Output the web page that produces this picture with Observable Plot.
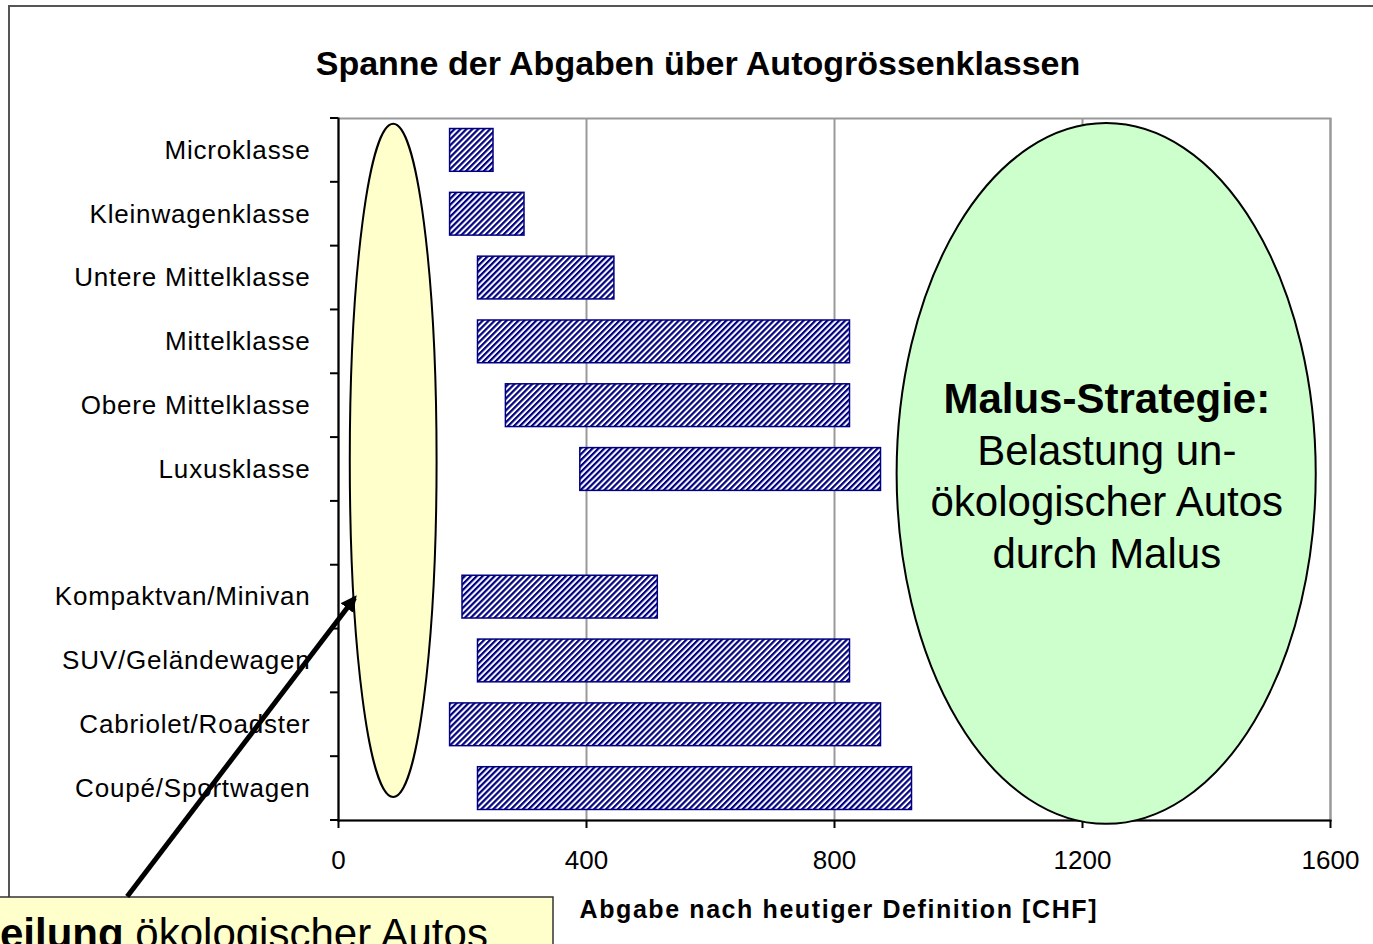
<!DOCTYPE html>
<html><head><meta charset="utf-8">
<script src="https://cdn.jsdelivr.net/npm/d3@7"></script>
<script src="https://cdn.jsdelivr.net/npm/@observablehq/plot@0.6"></script>
<style>html,body{margin:0;padding:0;background:#fff;overflow:hidden}</style>
</head><body><div id="chart"></div>
<script>
// ---- data ----
const categories = ["Microklasse","Kleinwagenklasse","Untere Mittelklasse","Mittelklasse","Obere Mittelklasse","Luxusklasse"," ","Kompaktvan/Minivan","SUV/Geländewagen","Cabriolet/Roadster","Coupé/Sportwagen"];
const minValues = [180,180,225,225,270,390,null,200,225,180,225];
const maxValues = [250,300,445,825,825,875,null,515,825,875,925];
const xTicks = [0,400,800,1200,1600];
const titleText = "Spanne der Abgaben über Autogrössenklassen";
const xLabel = "Abgabe nach heutiger Definition [CHF]";
const malusLines = ["Malus-Strategie:","Belastung un-","ökologischer Autos","durch Malus"];
const calloutBold = "eilung";
const calloutRest = " ökologischer Autos";
// annotation geometry in data units (x: CHF, y: row units from top of plot)
const yellowEllipse = {cx: 89, rx: 70, rowTop: 0.09, rowBottom: 10.64};
const greenEllipse = {cx: 1239, rx: 338, rowTop: 0.08, rowBottom: 11.06};
const arrowLine = {x1: -340, row1: 12.2, x2: 27, row2: 7.52};
const malusCenter = {x: 1240, row: 4.62, rowStep: 0.81};

const rows = categories.map((c,i)=>({cat:c, min:minValues[i], max:maxValues[i]})).filter(d=>d.min!=null);

const FONT = "'Liberation Sans', Arial, Helvetica, sans-serif";
const W = 1373, H = 944;

const plot = Plot.plot({
  width: W, height: H,
  marginLeft: 338, marginRight: 43, marginTop: 118, marginBottom: 124,
  style: {fontFamily: FONT, background: "white", color: "black", overflow: "visible"},
  x: {domain: [0,1600], ticks: xTicks, tickFormat: d => String(d)},
  y: {domain: categories, paddingInner: 0.33, paddingOuter: 0.165, align: 0.5, round: false},
  marks: [
    Plot.gridX(xTicks, {stroke: "#999", strokeOpacity: 1, strokeWidth: 2}),
    Plot.frame({stroke: "#999", strokeWidth: 2}),
    Plot.barX(rows, {y: "cat", x1: "min", x2: "max", fill: "url(#hatch)", stroke: "#000080", strokeWidth: 1.5}),
    Plot.axisX({ticks: xTicks, tickFormat: d => String(d), tickSize: 8, tickPadding: 22, fontSize: 26, label: null, strokeWidth: 2}),
    Plot.axisY({tickSize: 0, tickPadding: 28, fontSize: 26, label: null}),
    Plot.frame({anchor: "left", stroke: "#000", strokeWidth: 2}),
    Plot.frame({anchor: "bottom", stroke: "#000", strokeWidth: 2})
  ]
});

const svg = d3.select(plot);
const defs = svg.insert("defs", ":first-child");
const pat = defs.append("pattern").attr("id","hatch").attr("patternUnits","userSpaceOnUse")
  .attr("width",4.2).attr("height",4.2).attr("patternTransform","rotate(45)");
pat.append("rect").attr("width",4.2).attr("height",4.2).attr("fill","white");
pat.append("rect").attr("width",2.2).attr("height",4.2).attr("fill","#000080");

svg.selectAll('[aria-label="y-axis tick label"] text').attr("letter-spacing", 0.8);

const xs = plot.scale("x"), ys = plot.scale("y");
const X = v => xs.apply(v);
const step = ys.step;
const top0 = ys.apply(categories[0]) - (step - ys.bandwidth)/2;
const R = r => top0 + r*step;

// boundary ticks on y axis
const tg = svg.append("g").attr("stroke","#000").attr("stroke-width",2);
for (let k=0;k<=categories.length;k++){
  tg.append("line").attr("x1", X(0)-8).attr("x2", X(0)).attr("y1", R(k)).attr("y2", R(k));
}

// page frame
svg.append("path").attr("d", `M9,897 L9,6 L${W},6`).attr("fill","none").attr("stroke","#555").attr("stroke-width",2);

// title
svg.append("text").attr("x", 698).attr("y", 75).attr("text-anchor","middle")
  .attr("font-family", FONT).attr("font-weight","bold").attr("font-size",34).text(titleText);

// x label
svg.append("text").attr("x", 838).attr("y", 918).attr("text-anchor","middle")
  .attr("font-family", FONT).attr("font-weight","bold").attr("font-size",25)
  .attr("textLength",517).attr("lengthAdjust","spacing").text(xLabel);

// ellipses
function ellipse(e, fill){
  const cx = X(e.cx), rx = X(e.cx+e.rx)-X(e.cx);
  const t = R(e.rowTop), b = R(e.rowBottom);
  svg.append("ellipse").attr("cx",cx).attr("cy",(t+b)/2).attr("rx",rx).attr("ry",(b-t)/2)
    .attr("fill",fill).attr("stroke","#000").attr("stroke-width",2);
}
ellipse(yellowEllipse, "#ffffcc");
ellipse(greenEllipse, "#ccffcc");

// malus text
const mt = svg.append("text").attr("font-family", FONT).attr("font-size",42).attr("text-anchor","middle");
malusLines.forEach((s,i)=>{
  mt.append("tspan").attr("x", X(malusCenter.x)).attr("y", R(malusCenter.row + i*malusCenter.rowStep))
    .attr("font-weight", i===0 ? "bold" : "normal").text(s);
});

// callout box
svg.append("rect").attr("x",-2).attr("y",897).attr("width",555).attr("height",70)
  .attr("fill","#ffffcc").attr("stroke","#333").attr("stroke-width",1.5);
const ct = svg.append("text").attr("x",0).attr("y",948).attr("text-anchor","start")
  .attr("font-family",FONT).attr("font-size",42);
ct.append("tspan").attr("font-weight","bold").text(calloutBold);
ct.append("tspan").text(calloutRest);

// arrow
defs.append("marker").attr("id","ah").attr("viewBox","0 0 10 10").attr("refX",8).attr("refY",5)
  .attr("markerWidth",3.2).attr("markerHeight",3.2).attr("orient","auto")
  .append("path").attr("d","M0,0 L10,5 L0,10 z").attr("fill","#000");
svg.append("line").attr("x1",X(arrowLine.x1)).attr("y1",R(arrowLine.row1)).attr("x2",X(arrowLine.x2)).attr("y2",R(arrowLine.row2))
  .attr("stroke","#000").attr("stroke-width",5).attr("marker-end","url(#ah)");

document.getElementById("chart").appendChild(plot);
</script>
</body></html>
